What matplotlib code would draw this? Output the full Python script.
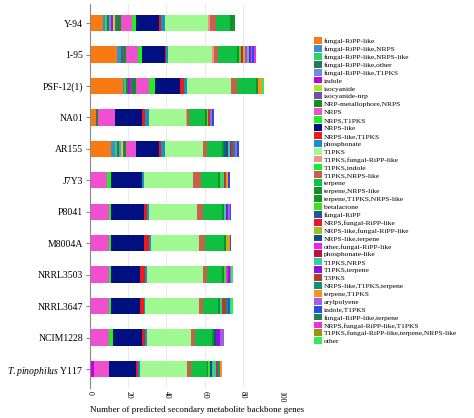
import matplotlib
matplotlib.use("Agg")
import matplotlib.pyplot as plt
from matplotlib.patches import Patch

plt.rcParams['font.family'] = ['Liberation Serif', 'DejaVu Serif']
plt.rcParams['mathtext.fontset'] = 'custom'
plt.rcParams['mathtext.it'] = 'Liberation Serif:italic'
plt.rcParams['mathtext.rm'] = 'Liberation Serif'

categories = ["fungal-RiPP-like", "fungal-RiPP-like,NRPS", "fungal-RiPP-like,NRPS-like",
              "fungal-RiPP-like,other", "fungal-RiPP-like,T1PKS", "indole", "isocyanide",
              "isocyanide-nrp", "NRP-metallophore,NRPS", "NRPS", "NRPS,T1PKS", "NRPS-like",
              "NRPS-like,T1PKS", "phosphonate", "T1PKS", "T1PKS,fungal-RiPP-like", "T1PKS,indole",
              "T1PKS,NRPS-like", "terpene", "terpene,NRPS-like", "terpene,T1PKS,NRPS-like",
              "betalactone", "fungal-RiPP", "NRPS,fungal-RiPP-like", "NRPS-like,fungal-RiPP-like",
              "NRPS-like,terpene", "other,fungal-RiPP-like", "phosphonate-like", "T1PKS,NRPS",
              "T1PKS,terpene", "T3PKS", "NRPS-like,T1PKS,terpene", "terpene,T1PKS", "arylpolyene",
              "indole,T1PKS", "fungal-RiPP-like,terpene", "NRPS,fungal-RiPP-like,T1PKS",
              "T1PKS,fungal-RiPP-like,terpene,NRPS-like", "other"]
colors = ["#f97a12", "#3a8fd0", "#22d860", "#2a7a48", "#6a8ae8", "#c000e0", "#a8e820",
          "#7050a0", "#109020", "#f050d0", "#20f020", "#001080", "#f01818", "#1890c0",
          "#a0f890", "#f09090", "#10f030", "#c86050", "#10c040", "#109030", "#109820",
          "#40e020", "#205890", "#f01040", "#a0c020", "#105080", "#f020f0", "#c01040",
          "#30d0a0", "#9010e0", "#b04020", "#109080", "#ff9020", "#a060e0", "#2050f0",
          "#208050", "#f030e0", "#a09010", "#30f050"]

strains = ["Y-94", "1-95", "PSF-12(1)", "NA01", "AR155", "J7Y3", "P8041", "M8004A",
           "NRRL3503", "NRRL3647", "NCIM1228", "$\\it{T. pinophilus}$ Y117"]

# counts per strain: {category index: count}
counts = [
    {0: 7, 1: 1, 2: 1, 3: 1, 4: 1, 5: 1, 6: 1, 7: 1, 8: 2, 9: 6, 10: 2, 11: 12, 12: 1, 13: 2,
     14: 23, 15: 1, 17: 3, 18: 7, 19: 2, 20: 1},
    {0: 14, 1: 2, 3: 1, 7: 1, 8: 1, 9: 6, 10: 2, 11: 12, 12: 1, 13: 1, 14: 23, 15: 1, 17: 2,
     18: 10, 19: 1, 21: 1, 23: 1, 24: 1, 26: 1, 28: 1, 29: 1, 33: 1, 34: 1, 36: 1},
    {0: 17, 1: 1, 2: 1, 3: 1, 5: 1, 7: 1, 8: 2, 9: 7, 10: 3, 11: 13, 12: 2, 13: 2, 14: 23,
     17: 3, 18: 10, 19: 1, 32: 2, 38: 1},
    {0: 3, 3: 1, 9: 9, 11: 14, 12: 2, 13: 2, 14: 19, 15: 1, 17: 1, 18: 8, 19: 1, 24: 1,
     30: 1, 33: 1, 34: 1},
    {0: 11, 1: 2, 2: 1, 3: 1, 4: 1, 6: 1, 7: 1, 8: 1, 9: 5, 11: 12, 12: 1, 13: 2, 14: 20,
     17: 2, 18: 8, 19: 1, 22: 1, 25: 1, 28: 1, 29: 1, 30: 1, 31: 1, 33: 1, 34: 1},
    {9: 9, 10: 2, 11: 16, 13: 1, 14: 26, 17: 4, 18: 9, 19: 1, 21: 1, 28: 1, 30: 1, 32: 1, 34: 1},
    {9: 10, 10: 1, 11: 17, 12: 2, 13: 1, 14: 25, 17: 3, 18: 10, 19: 1, 28: 1, 29: 1, 33: 1, 34: 1},
    {9: 10, 10: 1, 11: 17, 12: 3, 13: 1, 14: 25, 17: 3, 18: 10, 19: 1, 24: 1, 32: 1, 34: 1},
    {9: 10, 10: 1, 11: 15, 12: 3, 13: 1, 14: 29, 17: 2, 18: 8, 19: 1, 21: 1, 26: 1, 29: 1,
     33: 1, 38: 1},
    {9: 10, 10: 1, 11: 15, 12: 2, 13: 1, 14: 28, 17: 2, 18: 8, 19: 1, 28: 1, 30: 2, 31: 1,
     34: 1, 38: 2},
    {9: 10, 10: 2, 11: 15, 12: 2, 13: 1, 14: 23, 17: 2, 18: 9, 19: 1, 25: 1, 29: 2, 33: 2},
    {5: 2, 9: 8, 11: 14, 12: 1, 13: 1, 14: 25, 17: 2, 18: 8, 19: 1, 21: 1, 25: 1, 28: 2,
     30: 1, 31: 1, 32: 1},
]

fig = plt.figure(figsize=(4.74, 4.18), dpi=100)
ax = fig.add_axes([0.19, 0.072, 0.403, 0.918])

ypos = list(range(len(strains)))
left = [0] * len(strains)
for c in range(len(categories)):
    vals = [d.get(c, 0) for d in counts]
    ax.barh(ypos, vals, left=left, height=0.52, color=colors[c], linewidth=0)
    left = [l + v for l, v in zip(left, vals)]

ax.set_ylim(len(strains) - 0.4, -0.6)
ax.set_xlim(0, 100)
ax.set_yticks(ypos)
ax.set_yticklabels(strains, fontsize=7)
ax.set_xticks([0, 20, 40, 60, 80, 100])
ax.set_xticklabels(["0", "20", "40", "60", "80", "100"], rotation=-90, fontsize=5.5)
ax.xaxis.grid(True, color="#e6e6e6", linewidth=0.6)
ax.set_axisbelow(True)
for s in ["top", "right", "bottom"]:
    ax.spines[s].set_visible(False)
ax.spines["left"].set_color("#888888")
ax.tick_params(axis="x", length=0, pad=2)
ax.tick_params(axis="y", length=3, color="#888888", pad=2)
ax.set_xlabel("Number of predicted secondary metabolite backbone genes", fontsize=6.5, loc="left", labelpad=3)
ax.set_ylabel("Strain", fontsize=6.5)

handles = [Patch(facecolor=col, label=lab) for col, lab in zip(colors, categories)]
fig.legend(handles=handles, loc="upper left", bbox_to_anchor=(0.655, 0.92), frameon=False,
           fontsize=5.4, labelspacing=0.13, handlelength=1.0, handleheight=1.0,
           handletextpad=0.3, borderpad=0)

fig.savefig("out.png", dpi=100)
